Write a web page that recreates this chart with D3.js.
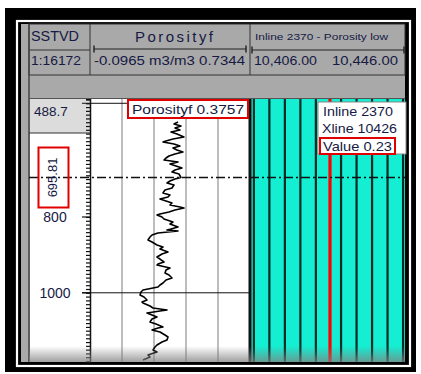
<!DOCTYPE html>
<html>
<head>
<meta charset="utf-8">
<script src="https://cdn.jsdelivr.net/npm/d3@7"></script>
<style>
  html, body { margin: 0; padding: 0; background: #ffffff; }
  svg { display: block; }
  text { font-family: "Liberation Sans", Arial, sans-serif; }
</style>
</head>
<body>
<svg id="chart" width="421" height="374"></svg>
<script>
// ---- data -------------------------------------------------------------
const depthTop = 488.7;
const depthBottom = 1182.6;
const depthLabels = [800, 1000];
const gridDepths = [500, 1000];

const porosityMin = -0.0965;
const porosityMax = 0.7344;
const porosityDivisions = 5;

// porosity log samples: depth (SSTVD) and porosity (m3/m3)
const logDepth = [549.4, 554.7, 559.9, 565.2, 570.5, 575.8, 581.0, 589.0, 594.2, 599.5,
  602.2, 607.4, 612.7, 618.0, 623.3, 628.5, 633.8, 639.1, 644.4, 649.6,
  654.9, 660.2, 665.5, 670.8, 676.0, 681.3, 686.6, 695.81, 699.8, 705.1,
  710.3, 715.6, 723.5, 728.8, 736.7, 742.0, 747.3, 752.6, 757.8, 763.1,
  768.4, 773.7, 776.3, 781.6, 786.9, 792.1, 794.8, 800.1, 805.3, 813.2,
  818.5, 826.4, 831.7, 834.3, 837.0, 842.3, 847.5, 852.8, 860.7, 866.0,
  873.9, 879.2, 884.5, 892.4, 897.7, 905.6, 910.9, 918.8, 924.1, 926.7,
  934.6, 939.9, 947.8, 953.1, 961.0, 966.3, 974.2, 979.5, 984.7, 990.0,
  992.7, 997.9, 1005.8, 1011.1, 1019.0, 1024.3, 1027.0, 1034.9, 1040.1, 1045.4,
  1048.1, 1053.3, 1058.6, 1063.9, 1069.2, 1077.1, 1082.4, 1090.3, 1092.9, 1098.2,
  1103.5, 1111.4, 1116.7, 1124.6, 1129.9, 1137.8, 1143.1, 1151.0, 1156.3, 1164.2,
  1169.4, 1177.3];
const logPorosity = [0.3605, 0.3397, 0.3761, 0.3449, 0.3709, 0.3241, 0.3553, 0.3916, 0.3345, 0.2982,
  0.2826, 0.3397, 0.3709, 0.3345, 0.3553, 0.3865, 0.3449, 0.3137, 0.2982, 0.2878,
  0.3605, 0.3189, 0.3501, 0.3813, 0.3449, 0.3293, 0.3657, 0.3757, 0.3449, 0.3189,
  0.3034, 0.3397, 0.3293, 0.2930, 0.2826, 0.3189, 0.3086, 0.2670, 0.2982, 0.3293,
  0.3189, 0.3709, 0.3916, 0.3449, 0.3137, 0.2670, 0.2514, 0.2774, 0.2878, 0.3345,
  0.3189, 0.3605, 0.3241, 0.3034, 0.3605, 0.2566, 0.2255, 0.2151, 0.2047, 0.2255,
  0.2514, 0.2826, 0.2670, 0.3086, 0.2774, 0.2514, 0.2670, 0.2878, 0.2566, 0.2514,
  0.3189, 0.2982, 0.2930, 0.3137, 0.3293, 0.2982, 0.2826, 0.2670, 0.2566, 0.2047,
  0.1787, 0.1684, 0.1632, 0.1839, 0.1995, 0.1735, 0.1787, 0.2151, 0.2307, 0.3034,
  0.2670, 0.1995, 0.2255, 0.2514, 0.2255, 0.2151, 0.2462, 0.2826, 0.2566, 0.2255,
  0.2670, 0.2930, 0.3086, 0.3034, 0.2774, 0.2514, 0.2411, 0.2307, 0.2514, 0.2047,
  0.2151, 0.1787];

const xlineMin = 10406;
const xlineMax = 10446;
const traceXlines = [10407, 10411, 10415, 10419, 10423, 10429.5, 10433.5, 10437.5, 10441.5, 10445.5];

const cursorDepth = 695.81;
const cursorInline = 2370;
const cursorXline = 10426;
const cursorValue = 0.23;
const cursorPorosity = 0.3757;

const headerDepth = ["SSTVD", "1:16172"];
const headerLog = ["Porosityf", "-0.0965 m3/m3 0.7344"];
const headerSeis = ["Inline 2370 - Porosity low", "10,406.00", "10,446.00"];

// ---- layout -----------------------------------------------------------
const svg = d3.select("#chart");
const trackTop = 99, trackBottom = 362;
const depthL = 29, depthR = 90, logR = 250, seisR = 405;
const textColor = "#161a44";

const y = d3.scaleLinear().domain([depthTop, depthBottom]).range([trackTop, trackBottom]);
const xPor = d3.scaleLinear().domain([porosityMin, porosityMax]).range([depthR, logR]);
const xSeis = d3.scaleLinear().domain([xlineMin, xlineMax]).range([logR, seisR]);

// frame: thick black border with a thin white inset line
svg.append("rect").attr("x", 5).attr("y", 8).attr("width", 411).attr("height", 364).attr("fill", "#000");
svg.append("rect").attr("x", 17).attr("y", 21).attr("width", 393).attr("height", 345)
  .attr("fill", "none").attr("stroke", "#fff").attr("stroke-width", 2.2);
svg.append("rect").attr("x", 21).attr("y", 24).attr("width", 384).attr("height", 338).attr("fill", "#a9a9a9");

// header grid
const hdr = svg.append("g");
hdr.append("rect").attr("x", depthL).attr("y", 24).attr("width", seisR - depthL).attr("height", 51)
  .attr("fill", "#a9a9a9").attr("stroke", "#333").attr("stroke-width", 1);
[depthR, logR].forEach(xv => hdr.append("line").attr("x1", xv).attr("x2", xv).attr("y1", 24).attr("y2", 75)
  .attr("stroke", "#333").attr("stroke-width", 1));
hdr.append("line").attr("x1", depthL).attr("x2", depthR).attr("y1", 50).attr("y2", 50).attr("stroke", "#333");
// scale brackets
function bracket(x1, x2, yy) {
  hdr.append("line").attr("x1", x1).attr("x2", x2).attr("y1", yy).attr("y2", yy).attr("stroke", "#222").attr("stroke-width", 1.2);
  [x1, x2].forEach(xv => hdr.append("line").attr("x1", xv).attr("x2", xv).attr("y1", yy - 3.5).attr("y2", yy + 3.5)
    .attr("stroke", "#222").attr("stroke-width", 1.4));
}
bracket(94, 246, 49);
bracket(252, 404, 50);

hdr.append("text").attr("x", 31).attr("y", 41).attr("font-size", 14).attr("fill", textColor)
  .attr("textLength", 48).attr("lengthAdjust", "spacingAndGlyphs").text(headerDepth[0]);
hdr.append("text").attr("x", 31).attr("y", 65).attr("font-size", 13.5).attr("fill", textColor)
  .attr("textLength", 50).attr("lengthAdjust", "spacingAndGlyphs").text(headerDepth[1]);
hdr.append("text").attr("x", 135).attr("y", 42).attr("font-size", 15).attr("fill", textColor)
  .attr("textLength", 78).attr("lengthAdjust", "spacing").text(headerLog[0]);
hdr.append("text").attr("x", 94).attr("y", 65).attr("font-size", 12.5).attr("fill", textColor)
  .attr("textLength", 151).attr("lengthAdjust", "spacingAndGlyphs").text(headerLog[1]);
hdr.append("text").attr("x", 255).attr("y", 40).attr("font-size", 9.5).attr("fill", textColor)
  .attr("textLength", 133).attr("lengthAdjust", "spacingAndGlyphs").text(headerSeis[0]);
hdr.append("text").attr("x", 254).attr("y", 65).attr("font-size", 13).attr("fill", textColor)
  .attr("textLength", 63).attr("lengthAdjust", "spacingAndGlyphs").text(headerSeis[1]);
hdr.append("text").attr("x", 332).attr("y", 65).attr("font-size", 13).attr("fill", textColor)
  .attr("textLength", 66).attr("lengthAdjust", "spacingAndGlyphs").text(headerSeis[2]);

// ---- tracks -----------------------------------------------------------
svg.append("line").attr("x1", depthL).attr("x2", depthL).attr("y1", 24).attr("y2", trackBottom)
  .attr("stroke", "#444").attr("stroke-width", 1.5);

// depth track
svg.append("rect").attr("x", depthL + 1).attr("y", trackTop).attr("width", depthR - depthL - 1)
  .attr("height", trackBottom - trackTop).attr("fill", "#fff");
svg.append("rect").attr("x", depthL + 1).attr("y", trackTop).attr("width", depthR - depthL - 1)
  .attr("height", 34).attr("fill", "#dcdcdc");
svg.append("line").attr("x1", depthL).attr("x2", depthR).attr("y1", trackTop + 34).attr("y2", trackTop + 34)
  .attr("stroke", "#333").attr("stroke-width", 1);
svg.append("text").attr("x", 34).attr("y", 116).attr("font-size", 13.5).attr("fill", textColor)
  .text(d3.format(".1f")(depthTop));

// porosity track
svg.append("rect").attr("x", depthR).attr("y", trackTop).attr("width", logR - depthR)
  .attr("height", trackBottom - trackTop).attr("fill", "#fff");
const porGrid = d3.range(1, porosityDivisions).map(i => porosityMin + i * (porosityMax - porosityMin) / porosityDivisions);
svg.append("g").selectAll("line").data(porGrid).join("line")
  .attr("x1", d => xPor(d)).attr("x2", d => xPor(d)).attr("y1", trackTop).attr("y2", trackBottom)
  .attr("stroke", "#9a9a9a").attr("stroke-width", 1.3);
svg.append("g").selectAll("line").data(gridDepths).join("line")
  .attr("x1", depthR - 8).attr("x2", logR).attr("y1", d => y(d)).attr("y2", d => y(d))
  .attr("stroke", "#111").attr("stroke-width", 1);

// seismic track
svg.append("rect").attr("x", logR).attr("y", trackTop).attr("width", seisR - logR)
  .attr("height", trackBottom - trackTop).attr("fill", "#14eed2");
svg.append("g").selectAll("line").data(traceXlines).join("line")
  .attr("x1", d => xSeis(d)).attr("x2", d => xSeis(d)).attr("y1", trackTop).attr("y2", trackBottom)
  .attr("stroke", "#062a24").attr("stroke-width", 2.2);
svg.append("line").attr("x1", xSeis(cursorXline) + 2.5).attr("x2", xSeis(cursorXline) + 2.5)
  .attr("y1", trackTop).attr("y2", trackBottom).attr("stroke", "#ff0000").attr("stroke-width", 3.2);

// depth axis ticks
const depthAxis = d3.axisLeft(y)
  .tickValues(d3.range(490, depthBottom, 10))
  .tickSize(4).tickFormat("");
const axG = svg.append("g").attr("transform", `translate(${depthR},0)`).call(depthAxis);
axG.select(".domain").attr("stroke", "#111").attr("stroke-width", 1.5);
axG.selectAll(".tick line").attr("stroke", "#111").attr("stroke-width", 1.2);
svg.append("g").selectAll("text").data(depthLabels).join("text")
  .attr("x", 55).attr("y", d => y(d) + 5).attr("text-anchor", "middle")
  .attr("font-size", 14).attr("fill", textColor).text(d => d);
svg.append("g").selectAll("line").data(depthLabels).join("line")
  .attr("x1", depthR - 8).attr("x2", depthR).attr("y1", d => y(d)).attr("y2", d => y(d))
  .attr("stroke", "#111").attr("stroke-width", 1.2);

// track dividers
svg.append("line").attr("x1", logR).attr("x2", logR).attr("y1", trackTop).attr("y2", trackBottom)
  .attr("stroke", "#111").attr("stroke-width", 3);
svg.append("line").attr("x1", depthL).attr("x2", seisR).attr("y1", trackTop - 0.5).attr("y2", trackTop - 0.5)
  .attr("stroke", "#555").attr("stroke-width", 1);

// porosity curve
const line = d3.line().x((d, i) => xPor(logPorosity[i])).y(d => y(d));
svg.append("path").datum(logDepth).attr("d", line)
  .attr("fill", "none").attr("stroke", "#000").attr("stroke-width", 1.6).attr("stroke-linejoin", "round");

// cursor line
svg.append("line").attr("x1", depthL).attr("x2", seisR).attr("y1", y(cursorDepth)).attr("y2", y(cursorDepth))
  .attr("stroke", "#111").attr("stroke-width", 1.3).attr("stroke-dasharray", "9,3,2,3");

// bottom shading
const defs = svg.append("defs");
const grad = defs.append("linearGradient").attr("id", "shade").attr("x1", 0).attr("x2", 0).attr("y1", 0).attr("y2", 1);
grad.append("stop").attr("offset", "0%").attr("stop-color", "#808080").attr("stop-opacity", 0);
grad.append("stop").attr("offset", "100%").attr("stop-color", "#808080").attr("stop-opacity", 0.75);
svg.append("rect").attr("x", depthL).attr("y", trackBottom - 16).attr("width", seisR - depthL).attr("height", 16)
  .attr("fill", "url(#shade)");

// cursor readouts
const cy = y(cursorDepth);
svg.append("rect").attr("x", 38.5).attr("y", cy - 30).attr("width", 30).attr("height", 60)
  .attr("fill", "none").attr("stroke", "#e00000").attr("stroke-width", 2);
svg.append("text").attr("transform", `translate(57,${cy}) rotate(-90)`).attr("text-anchor", "middle")
  .attr("font-size", 13).attr("fill", textColor).text(d3.format(".2f")(cursorDepth));

svg.append("rect").attr("x", 128).attr("y", 100).attr("width", 120).attr("height", 18)
  .attr("fill", "#fff").attr("stroke", "#e00000").attr("stroke-width", 2);
svg.append("text").attr("x", 132).attr("y", 113.5).attr("font-size", 12).attr("fill", textColor)
  .attr("textLength", 112).attr("lengthAdjust", "spacingAndGlyphs")
  .text("Porosityf " + cursorPorosity.toFixed(4));

svg.append("rect").attr("x", 318).attr("y", 102).attr("width", 88).attr("height", 52)
  .attr("fill", "#fff").attr("stroke", "#888").attr("stroke-width", 1);
svg.append("text").attr("x", 323).attr("y", 116).attr("font-size", 13).attr("fill", textColor)
  .attr("textLength", 70).attr("lengthAdjust", "spacingAndGlyphs").text("Inline " + cursorInline);
svg.append("text").attr("x", 322).attr("y", 133).attr("font-size", 13).attr("fill", textColor)
  .attr("textLength", 75).attr("lengthAdjust", "spacingAndGlyphs").text("Xline " + cursorXline);
svg.append("rect").attr("x", 320).attr("y", 138).attr("width", 75).attr("height", 16)
  .attr("fill", "none").attr("stroke", "#e00000").attr("stroke-width", 2);
svg.append("text").attr("x", 323).attr("y", 151).attr("font-size", 13).attr("fill", textColor)
  .attr("textLength", 69).attr("lengthAdjust", "spacingAndGlyphs").text("Value " + cursorValue.toFixed(2));
</script>
</body>
</html>
